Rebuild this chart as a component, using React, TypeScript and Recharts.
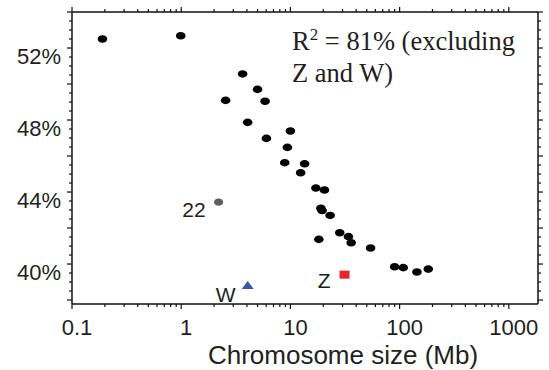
import React from 'react';
import { ScatterChart, Scatter, XAxis, YAxis } from 'recharts';

// autosomes: chromosome size (Mb) and GC content (%)
const chromSizeMb = [0.19, 0.99, 2.55, 3.65, 4.06, 5.0, 5.86, 6.03, 8.87, 9.38, 10.0, 12.4, 13.5, 17.1, 18.2, 19.0, 19.5, 20.5, 23.1, 28.3, 34.0, 36.0, 54.2, 90, 108, 144, 183];
const gcPercent = [52.5, 52.68, 49.09, 50.56, 47.87, 49.7, 49.04, 46.98, 45.63, 46.48, 47.39, 45.07, 45.57, 44.22, 41.37, 43.1, 42.97, 44.11, 42.7, 41.74, 41.52, 41.18, 40.89, 39.85, 39.8, 39.56, 39.72];

// highlighted chromosomes
const specialNames = ['22', 'Z', 'W'];
const specialSizes = [2.2, 31.3, 4.06];
const specialGc = [43.44, 39.41, 38.83];

const xTicks = [0.1, 0.2, 0.3, 0.4, 0.5, 0.6, 0.7, 0.8, 0.9, 1, 2, 3, 4, 5, 6, 7, 8, 9, 10, 20, 30, 40, 50, 60, 70, 80, 90, 100, 200, 300, 400, 500, 600, 700, 800, 900, 1000];
const xMajorTicks = [0.1, 1, 10, 100, 1000];
const yTicks = [38, 38.5, 39, 39.5, 40, 40.5, 41, 41.5, 42, 42.5, 43, 43.5, 44, 44.5, 45, 45.5, 46, 46.5, 47, 47.5, 48, 48.5, 49, 49.5, 50, 50.5, 51, 51.5, 52, 52.5, 53, 53.5, 54];
const yMajorTicks = [38, 40, 42, 44, 46, 48, 50, 52, 54];
const yLabelTicks = [40, 44, 48, 52];

const autosomes = chromSizeMb.map((s, i) => ({ size: s, gc: gcPercent[i] }));
const special = specialNames.map((n, i) => ({ name: n, size: specialSizes[i], gc: specialGc[i] }));

const INK = '#231f20';
const SANS = '"Liberation Sans", Arial, sans-serif';
const axisLine = { stroke: '#111', strokeWidth: 1.5 };

const BlackDot = (p: any) => <ellipse cx={p.cx} cy={p.cy} rx={4.8} ry={3.8} fill="#000" />;

const SpecialMark = (p: any) => {
  const { cx, cy, payload } = p;
  const txt = { fontFamily: SANS, fontSize: 21, fill: INK, textAnchor: 'end' as const };
  if (payload.name === 'Z') {
    return (
      <g>
        <rect x={cx - 5} y={cy - 4} width={10} height={8} fill="#e52629" />
        <text x={cx - 14} y={cy + 13} {...txt}>Z</text>
      </g>
    );
  }
  if (payload.name === 'W') {
    return (
      <g>
        <polygon points={`${cx - 6},${cy + 4} ${cx + 6},${cy + 4} ${cx},${cy - 4}`} fill="#3a57a6" />
        <text x={cx - 12} y={cy + 17} {...txt}>W</text>
      </g>
    );
  }
  return (
    <g>
      <ellipse cx={cx} cy={cy} rx={4.6} ry={3.6} fill="#5f5f5f" />
      <text x={cx - 13} y={cy + 15} {...txt}>{payload.name}</text>
    </g>
  );
};

const BottomTick = (p: any) => {
  const v = p.payload.value;
  const major = xMajorTicks.includes(v);
  return (
    <g>
      <line x1={p.x} x2={p.x} y1={p.y} y2={p.y + (major ? 5 : 3)} stroke="#111" strokeWidth={1.2} />
      {major && (
        <text x={p.x + 5} y={p.y + 31} textAnchor="middle" fontFamily={SANS} fontSize={22} fill={INK}>{v}</text>
      )}
    </g>
  );
};

const TopTick = (p: any) => {
  const major = xMajorTicks.includes(p.payload.value);
  return <line x1={p.x} x2={p.x} y1={p.y} y2={p.y - (major ? 5 : 3)} stroke="#111" strokeWidth={1.2} />;
};

const LeftTick = (p: any) => {
  const v = p.payload.value;
  const major = yMajorTicks.includes(v);
  return (
    <g>
      <line x1={p.x} x2={p.x - (major ? 5 : 3)} y1={p.y} y2={p.y} stroke="#111" strokeWidth={1.2} />
      {yLabelTicks.includes(v) && (
        <text x={p.x - 11} y={p.y + 16} textAnchor="end" fontFamily={SANS} fontSize={22} fill={INK}>{v}%</text>
      )}
    </g>
  );
};

const RightTick = (p: any) => {
  const major = yMajorTicks.includes(p.payload.value);
  return <line x1={p.x} x2={p.x + (major ? 5 : 3)} y1={p.y} y2={p.y} stroke="#111" strokeWidth={1.2} />;
};

const AxisTitle = (props: any) => {
  const vb = props.viewBox || { x: 72, y: 304, width: 466 };
  return (
    <text x={vb.x + vb.width / 2 + 38} y={vb.y + 60} textAnchor="middle" fontFamily={SANS} fontSize={26} fill={INK}>
      Chromosome size (Mb)
    </text>
  );
};

export default function App() {
  return (
    <div style={{ position: 'absolute', left: 0, top: 0, width: 549, height: 370, background: '#fff' }}>
      <ScatterChart width={549} height={370} margin={{ top: 0, right: 0, bottom: 0, left: 0 }}>
        <XAxis
          xAxisId="b" orientation="bottom" type="number" scale="log" dataKey="size"
          domain={[0.1, 1850]} allowDataOverflow ticks={xTicks} interval={0}
          height={66} tickSize={0} tickMargin={0} tickLine={false} axisLine={axisLine}
          tick={BottomTick} label={AxisTitle}
        />
        <XAxis
          xAxisId="t" orientation="top" type="number" scale="log" dataKey="size"
          domain={[0.1, 1850]} allowDataOverflow ticks={xTicks} interval={0}
          height={12} tickSize={0} tickMargin={0} tickLine={false} axisLine={axisLine}
          tick={TopTick}
        />
        <YAxis
          yAxisId="l" orientation="left" type="number" dataKey="gc"
          domain={[37.78, 54]} allowDataOverflow ticks={yTicks} interval={0}
          width={72} tickSize={0} tickMargin={0} tickLine={false} axisLine={axisLine}
          tick={LeftTick}
        />
        <YAxis
          yAxisId="r" orientation="right" type="number" dataKey="gc"
          domain={[37.78, 54]} allowDataOverflow ticks={yTicks} interval={0}
          width={11} tickSize={0} tickMargin={0} tickLine={false} axisLine={axisLine}
          tick={RightTick}
        />
        <Scatter xAxisId="b" yAxisId="l" data={autosomes} shape={BlackDot} isAnimationActive={false} />
        <Scatter xAxisId="b" yAxisId="l" data={special} shape={SpecialMark} isAnimationActive={false} />
        <Scatter xAxisId="t" yAxisId="r" data={[]} isAnimationActive={false} />
      </ScatterChart>
      <div
        style={{
          position: 'absolute', left: 292, top: 27, fontFamily: '"Liberation Serif", "Times New Roman", serif',
          fontSize: 26.5, lineHeight: '28px', color: INK, whiteSpace: 'nowrap',
        }}
      >
        <div>
          R<span style={{ fontSize: 17, position: 'relative', top: -10 }}>2</span> = 81% (excluding
        </div>
        <div>Z and W)</div>
      </div>
    </div>
  );
}
